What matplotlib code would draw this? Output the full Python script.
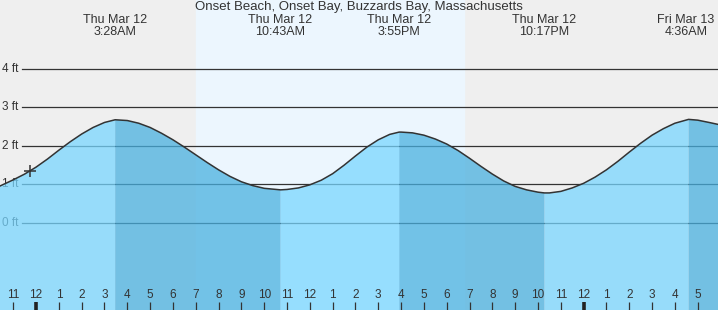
import matplotlib.pyplot as plt
import numpy as np

station = "Onset Beach, Onset Bay, Buzzards Bay, Massachusetts"

# hours since midnight Thu Mar 12, tide height in ft
hours = [-1.58, -1, -0.5, 0, 0.5, 1, 1.5, 2, 2.5, 3, 3.467, 4, 4.5, 5, 5.5, 6,
         6.5, 7, 7.5, 8, 8.5, 9, 9.5, 10, 10.717, 11, 11.5, 12, 12.5, 13, 13.5,
         14, 14.5, 15, 15.5, 15.917, 16, 16.5, 17, 17.5, 18, 18.5, 19, 19.5, 20,
         20.5, 21, 21.5, 22, 22.283, 22.5, 23, 23.5, 24, 24.5, 25, 25.5, 26,
         26.5, 27, 27.5, 28, 28.6, 29, 29.5, 29.89]
heights = [0.96, 1.12, 1.27, 1.45, 1.66, 1.89, 2.11, 2.31, 2.48, 2.61, 2.68,
           2.66, 2.59, 2.48, 2.33, 2.16, 1.97, 1.77, 1.57, 1.38, 1.21, 1.07,
           0.97, 0.90, 0.86, 0.87, 0.91, 0.99, 1.11, 1.28, 1.50, 1.74, 1.97,
           2.16, 2.30, 2.36, 2.36, 2.34, 2.28, 2.18, 2.05, 1.88, 1.68, 1.47,
           1.27, 1.09, 0.95, 0.86, 0.80, 0.78, 0.78, 0.82, 0.91, 1.03, 1.19,
           1.38, 1.60, 1.84, 2.07, 2.28, 2.45, 2.59, 2.69, 2.67, 2.61, 2.56]

# high / low tides
extreme_hours = [3.467, 10.717, 15.917, 22.283, 28.6]
extreme_days = ["Thu Mar 12", "Thu Mar 12", "Thu Mar 12", "Thu Mar 12", "Fri Mar 13"]
extreme_times = ["3:28AM", "10:43AM", "3:55PM", "10:17PM", "4:36AM"]

sunrise, sunset = 7.0, 18.77
now_hour, now_height = -0.26, 1.36
ft_levels = [0, 1, 2, 3, 4]
hour_ticks = list(range(-1, 30))

x0, x1 = -1.58, 29.89
y0, y1 = -2.26, 5.79

txt = "#333333"
plt.rcParams['font.family'] = ['Liberation Sans', 'DejaVu Sans']

fig = plt.figure(figsize=(7.18, 3.10), dpi=100, facecolor="#efefef")
ax = fig.add_axes([0, 0, 1, 1])
ax.set_facecolor("#efefef")
ax.set_xlim(x0, x1)
ax.set_ylim(y0, y1)
ax.axis("off")

# daylight
ax.axvspan(sunrise, sunset, color="#ecf6fe", zorder=0)

# grid lines and ft labels (under the water)
for lv in ft_levels:
    ax.plot([x0 + 0.95, x1], [lv, lv], color=txt, lw=0.9, zorder=1)
    ax.text(x0 + 0.1, lv, f"{lv} ft", color=txt, fontsize=8.5,
            va="center", ha="left", zorder=1)

t = np.array(hours)
h = np.array(heights)

# falling tide = from a high to the next low
falling = np.zeros(len(t), dtype=bool)
for i in range(0, len(extreme_hours), 2):
    start = extreme_hours[i]
    end = extreme_hours[i + 1] if i + 1 < len(extreme_hours) else x1
    falling |= (t >= start - 1e-6) & (t <= end + 1e-6)
rising = ~falling
for eh in extreme_hours:
    rising |= np.isclose(t, eh)

ax.fill_between(t, h, y0, where=rising, color="#78d6ff", alpha=0.74, lw=0, zorder=2)
ax.fill_between(t, h, y0, where=falling, color="#48b0e0", alpha=0.74, lw=0, zorder=2)
ax.plot(t, h, color=txt, lw=1.1, zorder=3)

ax.plot(now_hour, now_height, marker="+", color=txt, ms=9, mew=1.1, zorder=4)

# labels at the top
ax.text(0.5, 0.997, station, transform=ax.transAxes, ha="center", va="top",
        color=txt, fontsize=9.5)
xt = ax.get_xaxis_transform()
for eh, d, tm in zip(extreme_hours, extreme_days, extreme_times):
    xl = min(eh, x1 - 1.4)  # keep the last label inside the picture
    ax.text(xl, 0.935, d, transform=xt, ha="center", va="center", color=txt, fontsize=9)
    ax.text(xl, 0.896, tm, transform=xt, ha="center", va="center", color=txt, fontsize=9)

# hour ticks
for hr in hour_ticks:
    lab = (hr - 1) % 12 + 1
    thick = hr % 24 == 0
    ax.plot([hr, hr], [0, 0.025], transform=xt, color=txt if not thick else "#222222",
            lw=2.6 if thick else 0.9, solid_capstyle="butt", zorder=5)
    ax.text(hr, 0.047, str(lab), transform=xt, ha="center", va="center",
            color=txt, fontsize=8.5, zorder=5)

fig.savefig("out.png", dpi=100, facecolor=fig.get_facecolor())
